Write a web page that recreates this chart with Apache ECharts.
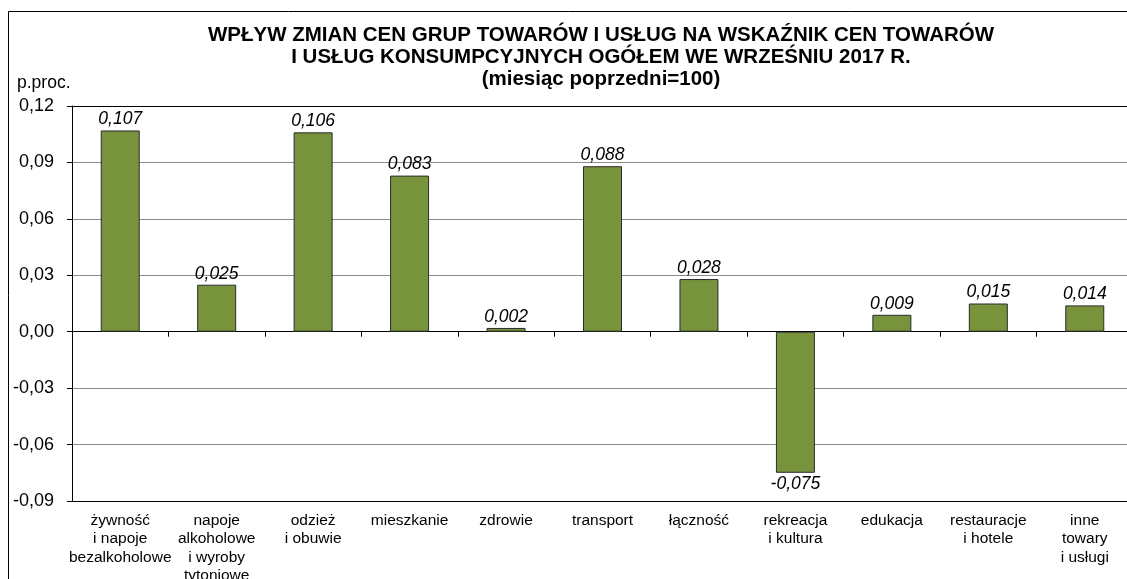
<!DOCTYPE html>
<html>
<head>
<meta charset="utf-8">
<script src="https://cdn.jsdelivr.net/npm/echarts@6/dist/echarts.min.js"></script>
<style>
html,body{margin:0;padding:0;background:#fff;}
#chart{width:1127px;height:579px;}
</style>
</head>
<body>
<div id="chart"></div>
<script>
const titleLines = [
  'WPŁYW ZMIAN CEN GRUP TOWARÓW I USŁUG NA WSKAŹNIK CEN TOWARÓW',
  'I USŁUG KONSUMPCYJNYCH OGÓŁEM WE WRZEŚNIU 2017 R.',
  '(miesiąc poprzedni=100)'
];
const unitLabel = 'p.proc.';
const categories = [
  'żywność\ni napoje\nbezalkoholowe',
  'napoje\nalkoholowe\ni wyroby\ntytoniowe',
  'odzież\ni obuwie',
  'mieszkanie',
  'zdrowie',
  'transport',
  'łączność',
  'rekreacja\ni kultura',
  'edukacja',
  'restauracje\ni hotele',
  'inne\ntowary\ni usługi'
];
const values = [0.107, 0.025, 0.106, 0.083, 0.002, 0.088, 0.028, -0.075, 0.009, 0.015, 0.014];
const yMin = -0.09, yMax = 0.12, yStep = 0.03;

const chart = echarts.init(document.getElementById('chart'), null, {renderer: 'canvas'});
const font = 'Liberation Sans, Arial, sans-serif';
const gridColors = ['#000', '#8c8c8c', '#8c8c8c', '#000', '#8c8c8c', '#8c8c8c', '#8c8c8c', '#000'];

chart.setOption({
  animation: false,
  backgroundColor: '#fff',
  title: {
    text: titleLines.join('\n'),
    left: 596, top: 19, textAlign: 'center',
    textStyle: {fontFamily: font, fontSize: 20.5, fontWeight: 'bold', color: '#000', lineHeight: 22}
  },
  graphic: [
    {type: 'rect', shape: {x: 8.5, y: 11.5, width: 1200, height: 700},
     style: {fill: 'none', stroke: '#000', lineWidth: 1}, z: -1, silent: true},
    {type: 'text', x: 17, y: 74, style: {text: unitLabel, font: '17.5px ' + font, fill: '#000'}}
  ],
  grid: {left: 72, top: 106, width: 1061, height: 395, show: false, outerBoundsMode: 'none', containLabel: false},
  xAxis: [
    {
      type: 'category', data: categories, position: 'bottom',
      axisLine: {show: false, onZero: false},
      axisTick: {show: false},
      axisLabel: {interval: 0, margin: 10, color: '#000', fontFamily: font, fontSize: 15.5, lineHeight: 18.5}
    },
    {
      type: 'category', data: categories, position: 'top',
      axisLine: {show: false, onZero: true, onZeroAxisIndex: 0},
      axisTick: {show: true, inside: true, interval: 0, length: 5, lineStyle: {color: '#000'}},
      axisLabel: {show: false}
    }
  ],
  yAxis: {
    type: 'value', min: yMin, max: yMax, interval: yStep,
    axisLine: {show: true, lineStyle: {color: '#000'}},
    axisTick: {show: true, length: 5, lineStyle: {color: '#000'}},
    axisLabel: {
      margin: 18, color: '#000', fontFamily: font, fontSize: 18,
      formatter: v => v.toFixed(2).replace('.', ',')
    },
    splitLine: {show: true, lineStyle: {color: gridColors, width: 1}}
  },
  series: [{
    type: 'bar', data: values.map(v => ({
      value: v,
      label: {position: v < 0 ? 'bottom' : 'top'}
    })),
    xAxisIndex: 0,
    barWidth: 39,
    itemStyle: {color: '#77933C', borderColor: '#2b2b2b', borderWidth: 1},
    label: {
      show: true, distance: 2, color: '#000', fontFamily: font, fontSize: 17.5, fontStyle: 'italic',
      formatter: p => p.value.toFixed(3).replace('.', ',')
    }
  }]
});
</script>
</body>
</html>
